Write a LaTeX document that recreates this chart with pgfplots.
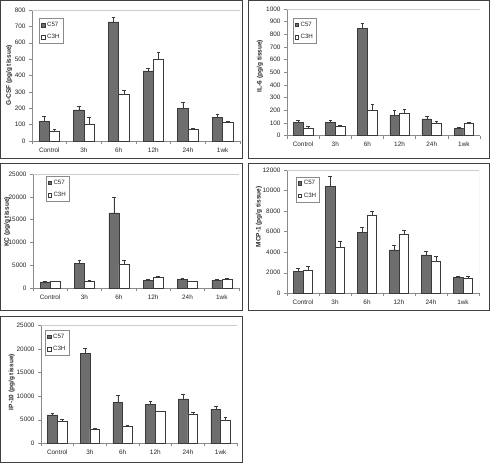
\documentclass[border=0pt]{standalone}
\usepackage{fontspec}
\setmainfont{Liberation Sans}
\usepackage{pgfplots}
\usepackage{pgfplotstable}
\pgfplotsset{compat=1.18}

\definecolor{barC}{HTML}{6E6E6E}
\definecolor{edgeC}{HTML}{3A3A3A}
\definecolor{axC}{HTML}{8A8A8A}
\definecolor{frameC}{HTML}{404040}

\pgfplotstableread{
x c57 c57e c3h c3he
0 122 30 60 10
1 190 24 102 45
2 727 29 285 22
3 428 18 499 46
4 201 35 71 6
5 146 20 116 6
}\datA
\pgfplotstableread{
x c57 c57e c3h c3he
0 103 15 60 11
1 103 15 76 8
2 845 40 203 45
3 158 45 179 31
4 132 21 95 18
5 60 8 100 8
}\datB
\pgfplotstableread{
x c57 c57e c3h c3he
0 1400 100 1500 100
1 5400 800 1600 200
2 16500 3400 5200 900
3 1800 200 2500 200
4 2000 250 1500 150
5 1800 200 2000 200
}\datC
\pgfplotstableread{
x c57 c57e c3h c3he
0 2100 330 2270 330
1 10440 1000 4480 550
2 5940 450 7560 390
3 4220 420 5770 390
4 3730 390 3080 490
5 1560 90 1490 130
}\datD
\pgfplotstableread{
x c57 c57e c3h c3he
0 6020 350 4600 500
1 19050 1130 3050 140
2 8780 1500 3680 140
3 8220 780 6730 140
4 9420 1060 6230 290
5 7220 710 4960 640
}\datE

\pgfplotsset{
  panel/.style={
    scale only axis,
    axis lines=left,
    axis line style={-, draw=axC, line width=0.6pt},
    xmin=-0.5, xmax=5.5, ymin=0,
    xtick={0,...,5},
    xticklabels={Control,3h,6h,12h,24h,1wk},
    minor xtick={-0.5,0.5,...,5.5},
    tick align=outside,
    major tick length=3pt, minor tick length=3pt,
    tick style={draw=axC, line width=0.5pt},
    major x tick style={draw=none},
    ticklabel style={font=\fontsize{6.4}{7}\selectfont, text=black!85},
    /pgf/number format/assume math mode=true,
    /pgf/number format/set thousands separator={},
    scaled y ticks=false,
    ybar=0pt,
    legend style={anchor=north west, draw=axC, line width=0.5pt,
      font=\fontsize{6.2}{7}\selectfont, inner sep=1.5pt, row sep=2.5pt,
      text=black!85},
    legend cell align=left,
    legend image code/.code={\draw[#1, line width=0.4pt] (0pt,-1.8pt) rectangle (3.6pt,1.8pt);},
    ylabel style={font=\bfseries\fontsize{6.5}{7.5}\selectfont, anchor=center, text=black!85},
  },
  s57/.style={fill=barC, draw=edgeC, line width=0.5pt,
    error bars/.cd, y dir=plus, y explicit,
    error bar style={draw=edgeC, line width=0.5pt},
    error mark options={rotate=90, draw=edgeC, mark size=1.8pt, line width=0.5pt}},
  s3h/.style={fill=white, draw=edgeC, line width=0.5pt,
    error bars/.cd, y dir=plus, y explicit,
    error bar style={draw=edgeC, line width=0.5pt},
    error mark options={rotate=90, draw=edgeC, mark size=1.8pt, line width=0.5pt}},
}

\begin{document}
\begin{tikzpicture}[x=1pt,y=1pt]
\path[use as bounding box, fill=white] (0,0) rectangle (490,467);

% Panel A: G-CSF
\begin{axis}[panel, at={(32pt,326pt)}, anchor=south west,
  width=208pt, height=131pt, bar width=10.3pt,
  ymax=800, ytick={0,100,...,800},
  ylabel={G-CSF (pg/g tissue)},
  ylabel style={at={(axis description cs:-0.109,0.5)}},
  legend style={at={(0.035,0.937)}}]
\addplot[s57] table[x=x, y=c57, y error=c57e] {\datA};
\addplot[s3h] table[x=x, y=c3h, y error=c3he] {\datA};
\legend{C57,C3H}
\draw[gray!40, line width=0.5pt] (rel axis cs:0,1) -- (rel axis cs:1,1) -- (rel axis cs:1,0);
\end{axis}

% Panel B: IL-6
\begin{axis}[panel, at={(287pt,331.3pt)}, anchor=south west,
  width=193pt, height=126.7pt, bar width=9.8pt,
  ymax=1000, ytick={0,100,...,1000},
  ylabel={IL-6 (pg/g tissue)},
  ylabel style={at={(axis description cs:-0.140,0.55)}},
  legend style={at={(0.03,0.929)}}]
\addplot[s57] table[x=x, y=c57, y error=c57e] {\datB};
\addplot[s3h] table[x=x, y=c3h, y error=c3he] {\datB};
\legend{C57,C3H}
\draw[gray!40, line width=0.5pt] (rel axis cs:0,1) -- (rel axis cs:1,1) -- (rel axis cs:1,0);
\end{axis}

% Panel C: KC
\begin{axis}[panel, at={(33pt,178.7pt)}, anchor=south west,
  width=206pt, height=114.3pt, bar width=10pt,
  ymax=25000, ytick={0,5000,...,25000},
  ylabel={KC (pg/g tissue)},
  ylabel style={at={(axis description cs:-0.125,0.58)}},
  legend style={at={(0.062,0.982)}}]
\addplot[s57] table[x=x, y=c57, y error=c57e] {\datC};
\addplot[s3h] table[x=x, y=c3h, y error=c3he] {\datC};
\legend{C57,C3H}
\draw[gray!40, line width=0.5pt] (rel axis cs:0,1) -- (rel axis cs:1,1) -- (rel axis cs:1,0);
\end{axis}

% Panel D: MCP-1
\begin{axis}[panel, at={(287pt,173.7pt)}, anchor=south west,
  width=192pt, height=123.3pt, bar width=9.6pt,
  ymax=12000, ytick={0,2000,...,12000},
  ylabel={MCP-1 (pg/g tissue)},
  ylabel style={at={(axis description cs:-0.146,0.62)}},
  legend style={at={(0.047,0.946)}}]
\addplot[s57] table[x=x, y=c57, y error=c57e] {\datD};
\addplot[s3h] table[x=x, y=c3h, y error=c3he] {\datD};
\legend{C57,C3H}
\draw[gray!40, line width=0.5pt] (rel axis cs:0,1) -- (rel axis cs:1,1) -- (rel axis cs:1,0);
\end{axis}

% Panel E: IP-10
\begin{axis}[panel, at={(41pt,23.7pt)}, anchor=south west,
  width=196pt, height=117.6pt, bar width=9.7pt,
  ymax=25000, ytick={0,5000,...,25000},
  ylabel={IP-10 (pg/g tissue)},
  ylabel style={at={(axis description cs:-0.149,0.52)}},
  legend style={at={(0.022,0.963)}}]
\addplot[s57] table[x=x, y=c57, y error=c57e] {\datE};
\addplot[s3h] table[x=x, y=c3h, y error=c3he] {\datE};
\legend{C57,C3H}
\draw[gray!40, line width=0.5pt] (rel axis cs:0,1) -- (rel axis cs:1,1) -- (rel axis cs:1,0);
\end{axis}

% panel frames
\begin{scope}[frameC, line width=0.8pt]
\draw (0.5,309) rectangle (242.5,466.5);
\draw (248,309) rectangle (489.5,466.5);
\draw (0.5,157) rectangle (242.5,303.5);
\draw (248,156.5) rectangle (489.5,303.5);
\draw (0.5,5) rectangle (242.5,150.5);
\end{scope}
\end{tikzpicture}
\end{document}
